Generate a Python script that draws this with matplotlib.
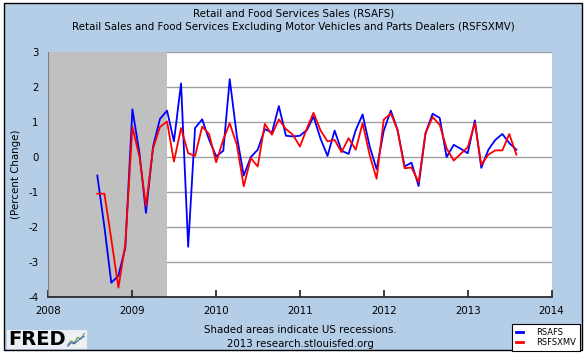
import matplotlib
matplotlib.use("Agg")
import matplotlib.pyplot as plt
from matplotlib.patches import Rectangle
import pandas as pd

plt.rcParams['font.family'] = ['DejaVu Sans']
plt.rcParams['axes.unicode_minus'] = False

# ---------------- data ----------------
start_month = "2008-08-01"
rsafs = [-0.53, -2.0, -3.6, -3.4, -2.6, 1.37, 0.1, -1.6, 0.3, 1.09, 1.33, 0.45,
         2.11, -2.57, 0.83, 1.08, 0.5, 0.02, 0.18, 2.23, 0.6, -0.53, 0.0, 0.21,
         0.8, 0.7, 1.46, 0.61, 0.59, 0.61, 0.78, 1.16, 0.52, 0.03, 0.76, 0.18,
         0.09, 0.77, 1.22, 0.30, -0.35, 0.75, 1.33, 0.78, -0.27, -0.16, -0.83, 0.68,
         1.24, 1.12, 0.0, 0.35, 0.24, 0.11, 1.05, -0.31, 0.21, 0.49, 0.66, 0.40, 0.21]
rsfsxmv = [-1.05, -1.05, -2.35, -3.74, -2.5, 0.86, 0.0, -1.4, 0.25, 0.86, 1.02, -0.13,
           0.83, 0.11, 0.03, 0.87, 0.66, -0.15, 0.5, 0.97, 0.35, -0.84, -0.03, -0.27,
           0.95, 0.64, 1.08, 0.80, 0.64, 0.30, 0.83, 1.27, 0.76, 0.45, 0.49, 0.14,
           0.54, 0.21, 0.97, 0.05, -0.62, 1.07, 1.25, 0.78, -0.32, -0.30, -0.72, 0.68,
           1.15, 0.92, 0.25, -0.10, 0.09, 0.28, 0.97, -0.22, 0.07, 0.19, 0.19, 0.66, 0.07]
recession = ("2007-12-01", "2009-06-01")
year_ticks = ["2008", "2009", "2010", "2011", "2012", "2013", "2014"]
y_ticks = [3, 2, 1, 0, -1, -2, -3, -4]
series_labels = ["RSAFS", "RSFSXMV"]
title_lines = ["Retail and Food Services Sales (RSAFS)",
               "Retail Sales and Food Services Excluding Motor Vehicles and Parts Dealers (RSFSXMV)"]
footer_lines = ["Shaded areas indicate US recessions.", "2013 research.stlouisfed.org"]
logo_icon_a = [1, 2, 1.5, 3, 2.5, 4]
logo_icon_b = [0.5, 1.5, 1.2, 2, 2.8, 3.2]

dates = pd.date_range(start_month, periods=len(rsafs), freq="MS")

# ---------------- figure ----------------
W, H = 587, 360
fig = plt.figure(figsize=(W / 100, H / 100), dpi=100)
fig.patch.set_facecolor("white")
panel_bg = "#B5CEE8"
fig.patches.append(Rectangle((4 / W, 1 - 350 / H), 578 / W, 347 / H,
                             transform=fig.transFigure, facecolor=panel_bg,
                             edgecolor="black", lw=1.0, zorder=-10))

ax = fig.add_axes([48.4 / W, 1 - 296.7 / H, (551.5 - 48.4) / W, (296.7 - 52.3) / H])
ax.set_zorder(5)
ax.set_facecolor("white")

ax.axvspan(pd.Timestamp(recession[0]), pd.Timestamp(recession[1]),
           color="#C0C0C0", lw=0, zorder=1)
for yv in y_ticks:
    ax.axhline(yv, color="#A0A0A0", lw=1.0, zorder=0.5)

ax.plot(dates, rsafs, color="#0000FF", lw=1.3, label=series_labels[0], zorder=3)
ax.plot(dates, rsfsxmv, color="#FF0000", lw=1.3, label=series_labels[1], zorder=4)

ax.set_xlim(pd.Timestamp(year_ticks[0] + "-01-01"), pd.Timestamp(year_ticks[-1] + "-01-01"))
ax.set_ylim(min(y_ticks), max(y_ticks))
ax.set_xticks([pd.Timestamp(y + "-01-01") for y in year_ticks])
ax.set_xticklabels(year_ticks)
ax.set_yticks(y_ticks)
ax.set_yticklabels([str(v) for v in y_ticks])

for s in ["top", "right"]:
    ax.spines[s].set_visible(False)
ax.spines["left"].set_color("#808080")
ax.spines["bottom"].set_color("#202020")
ax.spines["bottom"].set_linewidth(1.2)
ax.tick_params(axis="x", direction="in", length=5, width=1.2, color="#202020",
               labelsize=7.4, pad=7)
ax.tick_params(axis="y", direction="in", length=0, labelsize=7.4, pad=7)
ax.set_ylabel("(Percent Change)", fontsize=7.4, labelpad=5)

fig.text(0.5, 1 - 13 / H, title_lines[0], ha="center", va="center", fontsize=7.4)
fig.text(0.5, 1 - 27.5 / H, title_lines[1], ha="center", va="center", fontsize=7.4)

fig.text(300 / W, 1 - 330 / H, footer_lines[0], ha="center", va="center", fontsize=7.4)
fig.text(300 / W, 1 - 344 / H, footer_lines[1], ha="center", va="center", fontsize=7.4)

leg = fig.legend(loc="upper right", bbox_to_anchor=(580 / W, 1 - 324 / H),
                 fontsize=6, frameon=True, fancybox=False, edgecolor="black",
                 framealpha=1, handlelength=0.9, handletextpad=1.6,
                 borderpad=0.45, labelspacing=0.15, borderaxespad=0)
leg.get_frame().set_linewidth(0.8)
for line in leg.get_lines():
    line.set_linewidth(2)

# FRED logo
fig.patches.append(Rectangle((7 / W, 1 - 349 / H), 80 / W, 19 / H,
                             transform=fig.transFigure, facecolor="#E8EEF4",
                             edgecolor="none", zorder=-5))
fig.text(8 / W, 1 - 339.5 / H, "FRED", ha="left", va="center", fontsize=14,
         fontweight="bold", color="black", zorder=2)
iax = fig.add_axes([67 / W, 1 - 347 / H, 18 / W, 14 / H])
iax.set_facecolor("#F0F0F0")
iax.plot(range(len(logo_icon_a)), logo_icon_a, color="#5A9A3A", lw=0.8)
iax.plot(range(len(logo_icon_b)), logo_icon_b, color="#4060C0", lw=0.8)
iax.set_xticks([]); iax.set_yticks([])
for s in iax.spines.values():
    s.set_visible(False)

fig.savefig("out.png", dpi=100, facecolor=fig.get_facecolor())
